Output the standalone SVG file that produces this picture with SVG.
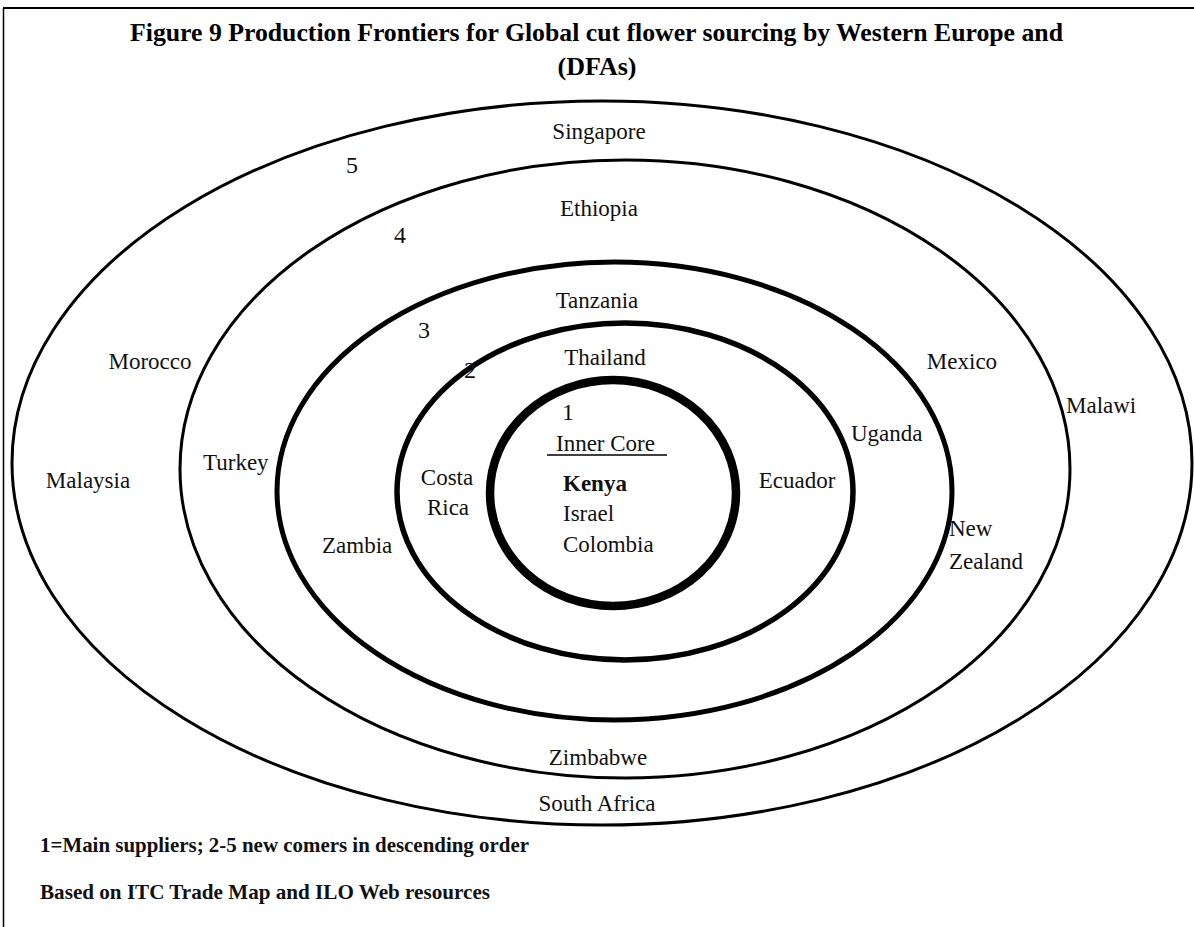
<svg xmlns="http://www.w3.org/2000/svg" width="1194" height="927" viewBox="0 0 1194 927">
  <style>
    .title { font-family: "Liberation Serif", "Times New Roman", serif; font-weight: bold; font-size: 26px; fill: #000; }
    .lbl { font-family: "Liberation Serif", "Times New Roman", serif; font-size: 23px; fill: #111; }
    .num { font-family: "Liberation Serif", "Times New Roman", serif; font-size: 24px; fill: #111; }
    .note { font-family: "Liberation Serif", "Times New Roman", serif; font-weight: bold; font-size: 21px; fill: #111; }
    .ring { fill: none; stroke: #000; }
  </style>
  <rect x="0" y="0" width="1194" height="927" fill="#fff"/>

  <!-- frame -->
  <g id="frame" stroke="#000" fill="none">
    <line x1="3" y1="8" x2="1194" y2="8" stroke-width="2"/>
    <line x1="3.5" y1="8" x2="3.5" y2="927" stroke-width="1.5"/>
  </g>

  <!-- heading -->
  <g id="heading">
    <text class="title" x="130" y="41" textLength="933" lengthAdjust="spacingAndGlyphs">Figure 9 Production Frontiers for Global cut flower sourcing by Western Europe and</text>
    <text class="title" x="597" y="75" text-anchor="middle">(DFAs)</text>
  </g>

  <!-- frontier rings, outermost first -->
  <g id="ring5">
    <ellipse class="ring" cx="602" cy="463" rx="590" ry="362" stroke-width="3"/>
    <text class="num" x="352" y="173" text-anchor="middle">5</text>
    <text class="lbl" x="599" y="139" text-anchor="middle">Singapore</text>
    <text class="lbl" x="150" y="369" text-anchor="middle">Morocco</text>
    <text class="lbl" x="88" y="488" text-anchor="middle">Malaysia</text>
    <text class="lbl" x="1066" y="413">Malawi</text>
    <text class="lbl" x="597" y="811" text-anchor="middle">South Africa</text>
  </g>

  <g id="ring4">
    <ellipse class="ring" cx="625" cy="469" rx="445" ry="309" stroke-width="3"/>
    <text class="num" x="400" y="243" text-anchor="middle">4</text>
    <text class="lbl" x="599" y="216" text-anchor="middle">Ethiopia</text>
    <text class="lbl" x="962" y="369" text-anchor="middle">Mexico</text>
    <text class="lbl" x="203" y="470">Turkey</text>
    <text class="lbl" x="949" y="536">New</text>
    <text class="lbl" x="949" y="569">Zealand</text>
    <text class="lbl" x="598" y="765" text-anchor="middle">Zimbabwe</text>
  </g>

  <g id="ring3">
    <ellipse class="ring" cx="614.5" cy="491" rx="337.5" ry="229" stroke-width="5"/>
    <text class="num" x="424" y="338" text-anchor="middle">3</text>
    <text class="lbl" x="597" y="308" text-anchor="middle">Tanzania</text>
    <text class="lbl" x="851" y="441">Uganda</text>
    <text class="lbl" x="322" y="553">Zambia</text>
  </g>

  <g id="ring2">
    <!-- double rule: dark band split by a pale hairline -->
    <ellipse class="ring" cx="625" cy="491.5" rx="228" ry="168.5" stroke-width="5.5"/>
    <ellipse class="ring" cx="625" cy="491.5" rx="228" ry="168.5" stroke-width="1.6" stroke="#e6e6e6"/>
    <text class="num" x="470" y="378" text-anchor="middle">2</text>
    <text class="lbl" x="605" y="365" text-anchor="middle">Thailand</text>
    <text class="lbl" x="447" y="485" text-anchor="middle">Costa</text>
    <text class="lbl" x="448" y="515" text-anchor="middle">Rica</text>
    <text class="lbl" x="797" y="488" text-anchor="middle">Ecuador</text>
  </g>

  <g id="ring1">
    <!-- core boundary: dark edges with a grey hatched fill between -->
    <ellipse class="ring" cx="613" cy="493" rx="123" ry="113" stroke-width="8.5" stroke="#333"/>
    <ellipse class="ring" cx="613" cy="493" rx="123" ry="113" stroke-width="5.5" stroke="#d2d2d2"/>
    <ellipse class="ring" cx="613" cy="493" rx="123" ry="113" stroke-width="3.5" stroke="#7a7a7a" stroke-dasharray="1.2 2.8"/>
    <text class="num" x="568" y="420" text-anchor="middle">1</text>
    <text class="lbl" x="556" y="451">Inner Core</text>
    <line x1="547" y1="455" x2="667" y2="455" stroke="#000" stroke-width="1.5"/>
    <text class="lbl" x="563" y="491" font-weight="bold">Kenya</text>
    <text class="lbl" x="563" y="521">Israel</text>
    <text class="lbl" x="563" y="552">Colombia</text>
  </g>

  <!-- footnotes -->
  <g id="notes">
    <text class="note" x="40" y="852" textLength="489" lengthAdjust="spacingAndGlyphs">1=Main suppliers; 2-5 new comers in descending order</text>
    <text class="note" x="40" y="899" textLength="450" lengthAdjust="spacingAndGlyphs">Based on ITC Trade Map and ILO Web resources</text>
  </g>

  <g id="connectors"/>
</svg>
